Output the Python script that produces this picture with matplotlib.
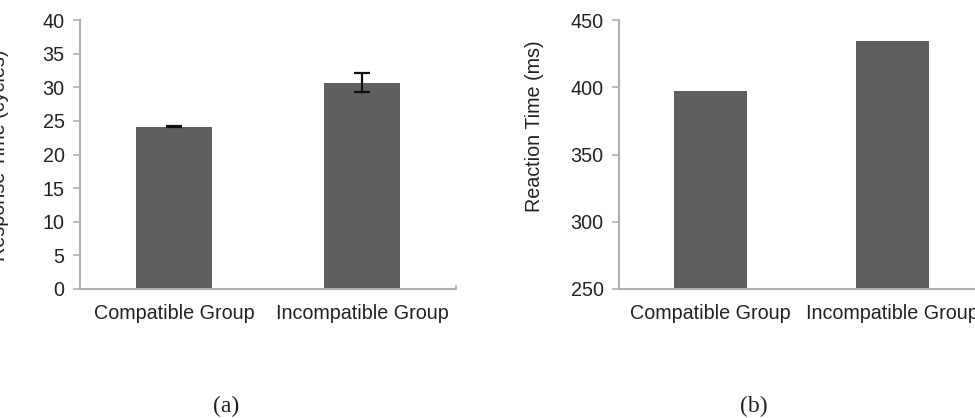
"""
Two-panel bar chart: compatible vs incompatible group (response / reaction time).
"""
import matplotlib
matplotlib.use("Agg")
import matplotlib.pyplot as plt

plt.rcParams['font.family'] = ['Liberation Sans', 'DejaVu Sans']

BAR = "#5f5f5f"
SPINE = "#b0b0b0"
TEXT = "#222222"

groups = ["Compatible Group", "Incompatible Group"]

# panel (a): response time in cycles, with error bars
resp_cycles = [24.15, 30.7]
resp_err = [0.1, 1.4]
resp_ticks = [0, 5, 10, 15, 20, 25, 30, 35, 40]

# panel (b): reaction time in ms
react_ms = [397.5, 434.5]
react_ticks = [250, 300, 350, 400, 450]

W, H = 975, 418
FS = 14.2
fig = plt.figure(figsize=(W / 100, H / 100), dpi=100, facecolor="white")


def style(ax, ticks):
    for side in ("top", "right"):
        ax.spines[side].set_visible(False)
    for side in ("left", "bottom"):
        ax.spines[side].set_color(SPINE)
        ax.spines[side].set_linewidth(1.5)
    ax.set_xlim(-0.5, 1.5)
    ax.set_ylim(ticks[0], ticks[-1])
    ax.set_yticks(ticks)
    ax.set_xticks(range(len(groups)))
    ax.set_xticklabels(groups)
    ax.set_xticks([1.5], minor=True)
    ax.tick_params(axis="x", which="major", length=0, pad=11, labelsize=FS, labelcolor=TEXT)
    ax.tick_params(axis="x", which="minor", length=3, width=1.2, color=SPINE, direction="in")
    ax.tick_params(axis="y", length=5, width=1.2, color=SPINE, pad=6, labelsize=FS, labelcolor=TEXT)


# left axes: x 80..456 px, y 20..289 px
ax1 = fig.add_axes([80 / W, 1 - 289 / H, 376 / W, 269 / H])
ax1.bar(range(len(groups)), resp_cycles, width=0.4, color=BAR, edgecolor="none")
ax1.errorbar(range(len(groups)), resp_cycles, yerr=resp_err, fmt="none",
             ecolor="#111111", elinewidth=1.6, capsize=6, capthick=1.6)
style(ax1, resp_ticks)
fig.text(0 / W, 1 - 155 / H, "Response Time (cycles)", rotation=90,
         ha="center", va="center", fontsize=FS, color=TEXT)

# right axes: x 619..984 px (runs past the edge)
ax2 = fig.add_axes([619 / W, 1 - 289 / H, 365 / W, 269 / H])
ax2.bar(range(len(groups)), react_ms, width=0.4, color=BAR, edgecolor="none")
style(ax2, react_ticks)
fig.text(534 / W, 1 - 126 / H, "Reaction Time (ms)", rotation=90,
         ha="center", va="center", fontsize=FS, color=TEXT)

serif = ["Liberation Serif", "DejaVu Serif"]
fig.text(226 / W, 1 - 406 / H, "(a)", ha="center", va="center",
         fontsize=17, family=serif, color=TEXT)
fig.text(754 / W, 1 - 406 / H, "(b)", ha="center", va="center",
         fontsize=17, family=serif, color=TEXT)

fig.savefig("out.png", dpi=100, facecolor="white")
